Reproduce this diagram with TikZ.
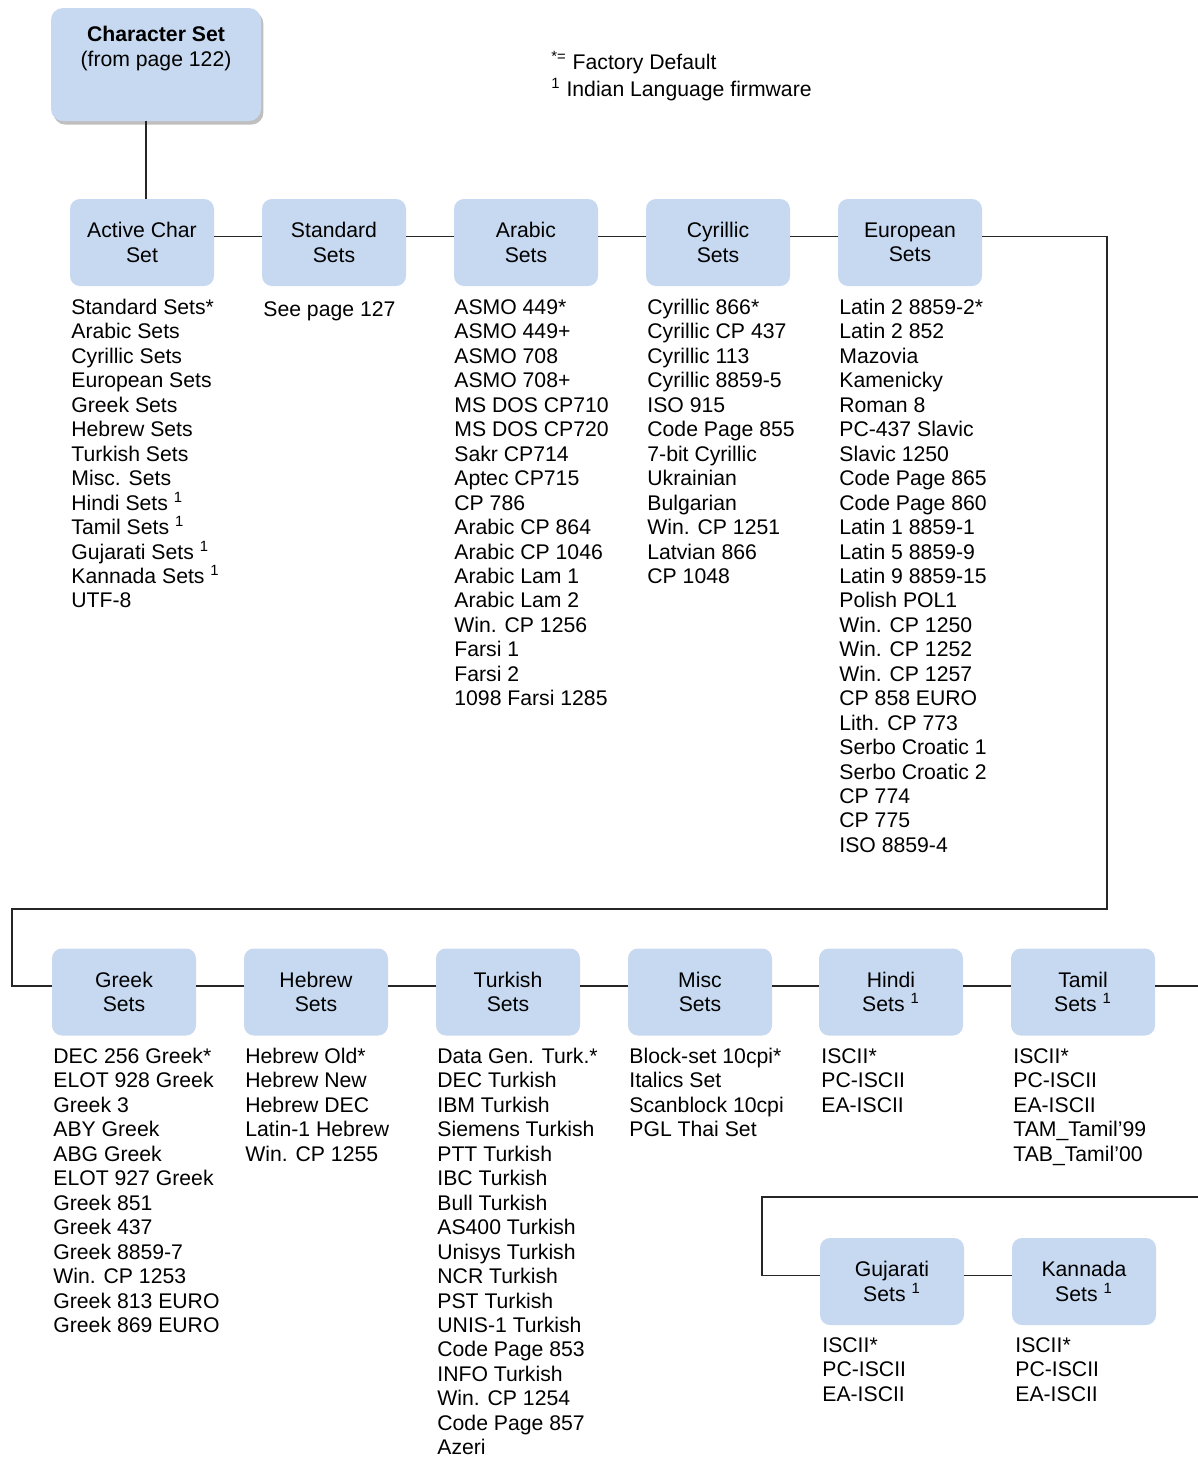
\documentclass[tikz,border=0pt]{standalone}
\usepackage{fontspec}
\setmainfont{Liberation Sans}
\usetikzlibrary{shadows}
\definecolor{boxblue}{RGB}{199,217,240}
\newcommand\onesup{\textsuperscript{1}}
\newcommand\charlist[4]{%
  \foreach \t [count=\i] in {#4} \node[listtxt, name=#1-\i] at (#2, #3+24.45*\i-24.45) {\t};}
\tikzset{
  every node/.style={font=\fontsize{10.6}{12.25}\selectfont},
  setbox/.style={rectangle, rounded corners=5pt, fill=boxblue, minimum width=72pt,
    minimum height=43.5pt, align=center, inner sep=0pt},
  listtxt/.style={anchor=base west, inner sep=0pt},
  conn/.style={line width=0.7pt, draw=black!85},
}
\begin{document}
\begin{tikzpicture}[x=0.5pt, y=-0.5pt]
\useasboundingbox (0,0) rectangle (1198,1458);
% title box
\node[rectangle, rounded corners=6pt, fill=boxblue, minimum width=105pt, minimum height=56.5pt,
  inner sep=0pt, drop shadow={shadow xshift=1.2pt, shadow yshift=-1.8pt, opacity=0.25, fill=black}]
  (title) at (156,64.5) {};
\node[align=center, inner sep=0pt] (titletxt) at (156,48.5) {\textbf{Character Set}\\(from page 122)};
% legend
\node[listtxt] (leg1) at (551,69.5) {\textsuperscript{*=} Factory Default};
\node[listtxt] (leg2) at (551,96.5) {\textsuperscript{1} Indian Language firmware};
% row 1 boxes
\node[setbox] (act) at (142,242.5) {Active Char\\Set};
\node[setbox] (std) at (334,242.5) {Standard\\Sets};
\node[setbox] (arb) at (526,242.5) {Arabic\\Sets};
\node[setbox] (cyr) at (718,242.5) {Cyrillic\\Sets};
\node[setbox] (eur) at (910,242.5) {European\\Sets};
% row 2 boxes
\node[setbox] (grk) at (124,992) {Greek\\Sets};
\node[setbox] (heb) at (316,992) {Hebrew\\Sets};
\node[setbox] (tur) at (508,992) {Turkish\\Sets};
\node[setbox] (msc) at (700,992) {Misc\\Sets};
\node[setbox] (hin) at (891,992) {Hindi\\Sets \onesup};
\node[setbox] (tam) at (1083,992) {Tamil\\Sets \onesup};
% row 3 boxes
\node[setbox] (guj) at (892,1281.5) {Gujarati\\Sets \onesup};
\node[setbox] (kan) at (1084,1281.5) {Kannada\\Sets \onesup};
% coordinates
\coordinate (c1) at (146,0);
\coordinate (c2) at (1107,909);
\coordinate (c3) at (12,909);
\coordinate (c4) at (1198,986);
\coordinate (c5) at (1198,1197);
\coordinate (c6) at (762,1197);
% connectors
\draw[conn] (title.south -| c1) -- (act.north -| c1);
\draw[conn] ([yshift=3pt]act.east) -- ([yshift=3pt]std.west);
\draw[conn] ([yshift=3pt]std.east) -- ([yshift=3pt]arb.west);
\draw[conn] ([yshift=3pt]arb.east) -- ([yshift=3pt]cyr.west);
\draw[conn] ([yshift=3pt]cyr.east) -- ([yshift=3pt]eur.west);
\draw[conn] ([yshift=3pt]eur.east) -| (c2) -- (c3) |- ([yshift=3pt]grk.west);
\draw[conn] ([yshift=3pt]grk.east) -- ([yshift=3pt]heb.west);
\draw[conn] ([yshift=3pt]heb.east) -- ([yshift=3pt]tur.west);
\draw[conn] ([yshift=3pt]tur.east) -- ([yshift=3pt]msc.west);
\draw[conn] ([yshift=3pt]msc.east) -- ([yshift=3pt]hin.west);
\draw[conn] ([yshift=3pt]hin.east) -- ([yshift=3pt]tam.west);
\draw[conn] ([yshift=3pt]tam.east) -- (c4);
\draw[conn] (c5) -- (c6) |- ([yshift=3pt]guj.west);
\draw[conn] ([yshift=3pt]guj.east) -- ([yshift=3pt]kan.west);
% lists
\charlist{actl}{71}{314.5}{Standard Sets*, Arabic Sets, Cyrillic Sets, European Sets, Greek Sets, Hebrew Sets, Turkish Sets, Misc. Sets, {Hindi Sets \onesup}, {Tamil Sets \onesup}, {Gujarati Sets \onesup}, {Kannada Sets \onesup}, UTF-8}
\charlist{stdl}{263}{316.5}{See page 127}
\charlist{arbl}{454}{314.5}{ASMO 449*, ASMO 449+, ASMO 708, ASMO 708+, MS DOS CP710, MS DOS CP720, Sakr CP714, Aptec CP715, CP 786, Arabic CP 864, Arabic CP 1046, Arabic Lam 1, Arabic Lam 2, Win. CP 1256, Farsi 1, Farsi 2, 1098 Farsi 1285}
\charlist{cyrl}{647}{314.5}{Cyrillic 866*, Cyrillic CP 437, Cyrillic 113, Cyrillic 8859-5, ISO 915, Code Page 855, 7-bit Cyrillic, Ukrainian, Bulgarian, Win. CP 1251, Latvian 866, CP 1048}
\charlist{eurl}{839}{314.5}{Latin 2 8859-2*, Latin 2 852, Mazovia, Kamenicky, Roman 8, PC-437 Slavic, Slavic 1250, Code Page 865, Code Page 860, Latin 1 8859-1, Latin 5 8859-9, Latin 9 8859-15, Polish POL1, Win. CP 1250, Win. CP 1252, Win. CP 1257, CP 858 EURO, Lith. CP 773, Serbo Croatic 1, Serbo Croatic 2, CP 774, CP 775, ISO 8859-4}
\charlist{grkl}{53}{1063.5}{DEC 256 Greek*, ELOT 928 Greek, Greek 3, ABY Greek, ABG Greek, ELOT 927 Greek, Greek 851, Greek 437, Greek 8859-7, Win. CP 1253, Greek 813 EURO, Greek 869 EURO}
\charlist{hebl}{245}{1063.5}{Hebrew Old*, Hebrew New, Hebrew DEC, Latin-1 Hebrew, Win. CP 1255}
\charlist{turl}{437}{1063.5}{Data Gen. Turk.*, DEC Turkish, IBM Turkish, Siemens Turkish, PTT Turkish, IBC Turkish, Bull Turkish, AS400 Turkish, Unisys Turkish, NCR Turkish, PST Turkish, UNIS-1 Turkish, Code Page 853, INFO Turkish, Win. CP 1254, Code Page 857, Azeri}
\charlist{mscl}{629}{1063.5}{Block-set 10cpi*, Italics Set, Scanblock 10cpi, PGL Thai Set}
\charlist{hinl}{821}{1063.5}{ISCII*, PC-ISCII, EA-ISCII}
\charlist{taml}{1013}{1063.5}{ISCII*, PC-ISCII, EA-ISCII, {TAM\_Tamil’99}, {TAB\_Tamil’00}}
\charlist{gujl}{822}{1352.5}{ISCII*, PC-ISCII, EA-ISCII}
\charlist{kanl}{1015}{1352.5}{ISCII*, PC-ISCII, EA-ISCII}
\end{tikzpicture}
\end{document}
